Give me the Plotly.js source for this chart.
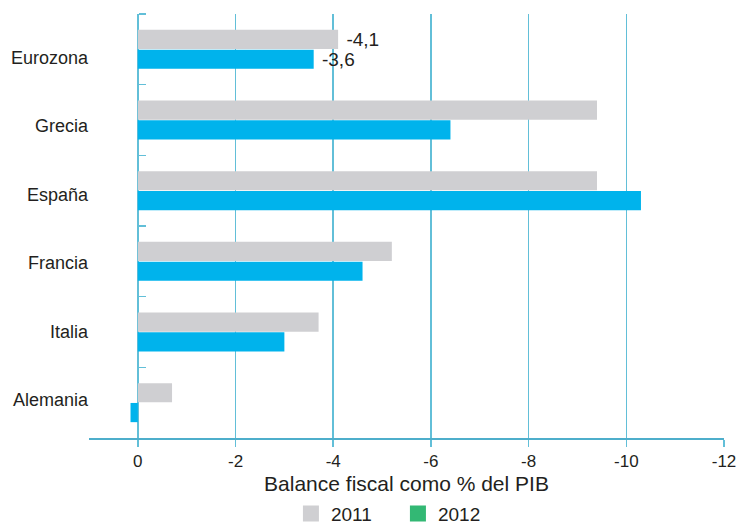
<!DOCTYPE html>
<html>
<head>
<meta charset="utf-8">
<script src="https://cdn.plot.ly/plotly-3.0.1.min.js"></script>
<style>html,body{margin:0;padding:0;background:#fff;}#chart{width:739px;height:525px;}</style>
</head>
<body>
<div id="chart"></div>
<script>
const categories = ['Eurozona', 'Grecia', 'España', 'Francia', 'Italia', 'Alemania'];
const values2011 = [-4.1, -9.4, -9.4, -5.2, -3.7, -0.7];
const values2012 = [-3.6, -6.4, -10.3, -4.6, -3.0, 0.15];
const labelled = ['Eurozona'];
const seriesNames = ['2011', '2012'];
const xTickVals = [0, -2, -4, -6, -8, -10, -12];
const xTickText = ['0', '-2', '-4', '-6', '-8', '-10', '-12'];
const xTitle = 'Balance fiscal como % del PIB';

const fmt = v => v.toFixed(1).replace('.', ',');
const textFor = vals => vals.map((v, i) => labelled.includes(categories[i]) ? ' ' + fmt(v) : '');

const FONT = 'Liberation Sans, Arial, Helvetica, sans-serif';
const TXT = '#231f20';
const GRID = '#62bfd8';
const GREY = '#cfcfd2';
const CYAN = '#00b3ec';
const GREEN = '#33b874';
const xRange = [1, -12];

const traces = [
  {type: 'bar', orientation: 'h', y: categories, x: values2011, name: seriesNames[0],
   marker: {color: GREY}, text: textFor(values2011), textposition: 'outside',
   constraintext: 'none', cliponaxis: false, textfont: {family: FONT, size: 19, color: TXT},
   showlegend: false, hoverinfo: 'x+y', xaxis: 'x', yaxis: 'y'},
  {type: 'bar', orientation: 'h', y: categories, x: values2012, name: seriesNames[1],
   marker: {color: CYAN}, text: textFor(values2012), textposition: 'outside',
   constraintext: 'none', cliponaxis: false, textfont: {family: FONT, size: 19, color: TXT},
   showlegend: false, hoverinfo: 'x+y', xaxis: 'x', yaxis: 'y'},
  // category labels axis
  {type: 'scatter', mode: 'markers', y: categories, x: categories.map(() => 0),
   marker: {opacity: 0, size: 1}, showlegend: false, hoverinfo: 'skip', xaxis: 'x', yaxis: 'y2'},
  // legend entries
  {type: 'scatter', mode: 'markers', x: [null], y: [null], name: seriesNames[0],
   marker: {symbol: 'square', size: 18, color: GREY}, xaxis: 'x', yaxis: 'y2'},
  {type: 'scatter', mode: 'markers', x: [null], y: [null], name: seriesNames[1],
   marker: {symbol: 'square', size: 18, color: GREEN}, xaxis: 'x', yaxis: 'y2'}
];

const n = categories.length;
const layout = {
  width: 739, height: 525,
  margin: {l: 89, r: 15, t: 14, b: 87, pad: 0, autoexpand: false},
  paper_bgcolor: '#ffffff', plot_bgcolor: '#ffffff',
  font: {family: FONT, color: TXT, size: 17},
  barmode: 'group', bargap: 0.44, bargroupgap: 0.03,
  xaxis: {
    range: xRange, tickvals: xTickVals, ticktext: xTickText,
    showgrid: true, gridcolor: GRID, gridwidth: 1.5,
    zeroline: true, zerolinecolor: GRID, zerolinewidth: 1.5,
    showline: true, linecolor: '#4eaecb', linewidth: 2,
    ticks: 'outside', ticklen: 7, tickwidth: 1.5, tickcolor: GRID,
    tickfont: {family: FONT, size: 17, color: TXT},
    title: {text: xTitle, font: {family: FONT, size: 21, color: TXT}, standoff: 9},
    automargin: false, fixedrange: true
  },
  yaxis: {
    type: 'category', categoryorder: 'array', categoryarray: categories,
    range: [n - 0.5, -0.5],
    anchor: 'free', position: (0 - xRange[0]) / (xRange[1] - xRange[0]), side: 'right',
    showgrid: false, zeroline: false, showline: false,
    ticks: 'outside', tickson: 'boundaries', ticklen: 7, tickwidth: 1.5, tickcolor: GRID,
    showticklabels: false, automargin: false, fixedrange: true
  },
  yaxis2: {
    type: 'category', categoryorder: 'array', categoryarray: categories,
    overlaying: 'y', anchor: 'x', side: 'left',
    range: [5.554, -0.633],
    showgrid: false, zeroline: false, showline: false, ticks: '',
    tickfont: {family: FONT, size: 18, color: TXT},
    automargin: false, fixedrange: true
  },
  legend: {
    orientation: 'h', x: 0.318, xanchor: 'left',
    yref: 'container', y: 0.058, yanchor: 'top',
    font: {family: FONT, size: 19, color: TXT}, itemsizing: 'trace',
    entrywidth: 62, entrywidthmode: 'pixels',
    bgcolor: 'rgba(0,0,0,0)', borderwidth: 0
  },
  showlegend: true
};

Plotly.newPlot('chart', traces, layout, {displayModeBar: false, staticPlot: true});
</script>
</body>
</html>
